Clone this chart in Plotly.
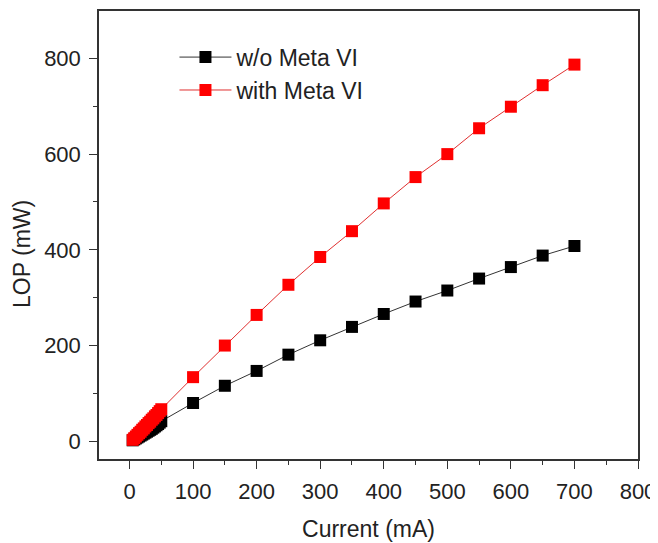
import plotly.graph_objects as go

current = [5, 7.5, 10, 12.5, 15, 17.5, 20, 22.5, 25, 27.5, 30, 32.5, 35, 37.5, 40, 42.5, 45, 47.5, 50,
           100, 150, 200, 250, 300, 350, 400, 450, 500, 550, 600, 650, 700]
lop_without = [2, 4, 6, 8, 10, 12, 14, 16, 18, 20, 22, 24, 26, 28.5, 31, 33.5, 36, 39, 42,
               80, 116, 147, 181, 211, 239, 266, 292, 315, 340, 364, 388, 408]
lop_with = [3, 6.5, 10, 13.5, 17, 20, 24, 27, 31, 34, 38, 41, 45, 48, 52, 55, 59, 63, 67,
            134, 200, 264, 327, 385, 439, 497, 552, 600, 654, 699, 744, 787]

x_ticks = [0, 100, 200, 300, 400, 500, 600, 700, 800]
y_ticks = [0, 200, 400, 600, 800]

FONT = "Liberation Sans, Arial, sans-serif"

fig = go.Figure()
fig.add_trace(go.Scatter(
    x=current, y=lop_without, name="w/o Meta VI", mode="lines+markers",
    line=dict(color="#333333", width=1),
    marker=dict(symbol="square", size=12, color="#000000"),
))
fig.add_trace(go.Scatter(
    x=current, y=lop_with, name="with Meta VI", mode="lines+markers",
    line=dict(color="#e03030", width=1),
    marker=dict(symbol="square", size=12, color="#ff0000"),
))

axis_common = dict(
    showline=True, linecolor="#333333", linewidth=1.5, mirror=True,
    ticks="outside", ticklen=8, tickwidth=1.2, tickcolor="#333333",
    showgrid=False, zeroline=False, automargin=False,
    tickfont=dict(family=FONT, size=22, color="#222222"),
    minor=dict(ticks="outside", ticklen=4, tickwidth=1.2, tickcolor="#333333"),
)

fig.update_xaxes(
    range=[-48, 800], tickvals=x_ticks, ticktext=[str(v) for v in x_ticks],
    minor_dtick=50, minor_tick0=0, ticklabelstandoff=4,
    title=dict(text="Current (mA)", font=dict(family=FONT, size=23, color="#222222"), standoff=18),
    **axis_common,
)
fig.update_yaxes(
    range=[-37, 899], tickvals=y_ticks, ticktext=[str(v) for v in y_ticks],
    minor_dtick=100, minor_tick0=0, ticklabelstandoff=4,
    **axis_common,
)

fig.add_annotation(
    text="LOP (mW)", xref="paper", yref="paper", x=-0.1429, y=0.4576,
    xanchor="center", yanchor="middle", textangle=-90, showarrow=False,
    font=dict(family=FONT, size=23, color="#222222"),
)

fig.update_layout(
    width=650, height=535,
    margin=dict(l=91, r=20, t=3, b=84),
    paper_bgcolor="white", plot_bgcolor="white",
    font=dict(family=FONT, size=22, color="#222222"),
    legend=dict(
        x=0.14, y=0.945, xanchor="left", yanchor="top",
        bgcolor="rgba(0,0,0,0)", borderwidth=0,
        font=dict(family=FONT, size=23, color="#222222"),
        itemwidth=52, tracegroupgap=0,
    ),
    showlegend=True,
)

fig.write_html("out.html")
